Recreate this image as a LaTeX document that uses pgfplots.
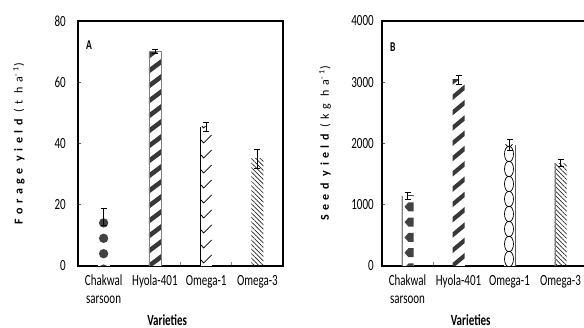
\documentclass[border=0pt]{standalone}
\usepackage{fontspec}
\setmainfont[FakeStretch=0.71]{Carlito}
\newfontfamily\labfont[LetterSpace=37]{Carlito}
\usepackage{pgfplots}
\pgfplotsset{compat=1.18}
\usetikzlibrary{patterns.meta}
\definecolor{blob}{HTML}{424242}
\definecolor{stripe}{HTML}{383838}
\tikzset{np/.style={path picture={}, pattern=none}}
\pgfplotsset{
  common/.style={
    scale only axis, width=205pt, height=245pt,
    anchor=south west,
    xmin=-0.5, xmax=3.5, ymin=0,
    axis line style={line width=1.6pt, black},
    xtick={0,1,2,3},
    xticklabels={{\strut Chakwal\\sarsoon},{\strut Hyola-401},{\strut Omega-1},{\strut Omega-3}},
    xticklabel style={align=center, font=\fontsize{15.5}{18}\selectfont, yshift=-3.2pt},
    yticklabel style={font=\fontsize{15.5}{18}\selectfont},
    /pgf/number format/assume math mode=true,
    /pgf/number format/1000 sep={},
    major x tick style={draw=none},
    minor x tick style={gray, line width=0.6pt},
    xtick pos=bottom, ytick pos=left,
    tick align=inside,
    major tick length=3pt, minor tick length=4pt,
    y tick style={gray!70!black, line width=0.6pt},
    xlabel={\fontsize{15.5}{18}\selectfont\bfseries Varieties},
    xlabel style={at={(axis description cs:0.435,0)}, anchor=north, inner sep=0pt, yshift=-48pt},
    clip=true,
  },
  bar/.style={ybar, bar width=12pt, bar shift=0pt, forget plot},
  err/.style={forget plot, draw=none, mark=none,
    error bars/.cd, y dir=both, y explicit,
    error bar style={draw=black, line width=0.7pt},
    error mark options={rotate=90, mark size=3pt, line width=0.7pt, draw=black}},
}
\begin{document}
\begin{tikzpicture}
% ---------------- Panel A ----------------
\begin{axis}[common, at={(78pt,62pt)}, width=205pt,
  ymax=80, ytick={0,20,40,60,80},
  yticklabel style={xshift=-8.8pt},
  minor xtick={1.5,2.5},
  ylabel={\labfont\fontsize{12}{14}\selectfont\bfseries Forage yield \mdseries (t ha\textsuperscript{-1})},
  ylabel style={at={(axis description cs:-0.288,0.5)}, anchor=center, inner sep=0pt},
]
% Chakwal sarsoon
\addplot[bar, draw=none, fill=white, path picture={
  \foreach \k [evaluate=\k as \y using \k*15.4-3.1] in {0,...,4}{
    \fill[np, draw=none, fill=blob] ([xshift=6pt,yshift=\y pt]path picture bounding box.south west) circle (4.7pt);
  }}] coordinates {(0,16)};
% Hyola-401
\addplot[bar, draw=gray, line width=0.7pt, fill=white, path picture={
  \foreach \k [evaluate=\k as \y using \k*15-2.25] in {-1,...,16}{
    \draw[np, fill=none, draw=stripe, line width=4.5pt] ([xshift=-3pt,yshift=\y pt]path picture bounding box.south west) -- ++(18pt,13.5pt);
  }}] coordinates {(1,70)};
% Omega-1
\addplot[bar, draw=none, fill=white, path picture={
  \draw[np, fill=none, draw=black, line width=1.6pt] (path picture bounding box.south west) -- (path picture bounding box.north west);
  \foreach \k [evaluate=\k as \y using \k*15+6] in {0,...,10}{
    \draw[np, fill=none, draw=black, line width=0.8pt] ([xshift=1pt,yshift=\y pt]path picture bounding box.south west) -- ++(2.5pt,-3pt) -- ++(8pt,8pt);
  }}] coordinates {(2,45.5)};
% Omega-3
\addplot[bar, draw=none, pattern={Lines[angle=135, distance=3.2pt, line width=0.7pt]}, pattern color=black!85] coordinates {(3,35)};
% error bars
\addplot[err] coordinates {(0,16) +- (0,2.8) (1,70) +- (0,0.6) (2,45.5) +- (0,1.5) (3,35) +- (0,3.2)};
\node[anchor=north west, inner sep=0pt, font=\fontsize{13.5}{15}\selectfont\bfseries] at (rel axis cs:0.039,0.922) {A};
\end{axis}
% ---------------- Panel B ----------------
\begin{axis}[common, at={(382pt,62pt)}, width=204pt,
  ymax=4000, ytick={0,1000,2000,3000,4000},
  yticklabel style={xshift=-4.8pt},
  minor xtick={0.5},
  ylabel={\labfont\fontsize{12}{14}\selectfont\bfseries Seed yield \mdseries (kg ha\textsuperscript{-1})},
  ylabel style={at={(axis description cs:-0.279,0.5)}, anchor=center, inner sep=0pt},
]
% Chakwal sarsoon
\addplot[bar, draw=none, fill=white, path picture={
  \draw[np, fill=none, draw=gray, line width=2.4pt] (path picture bounding box.south west) -- (path picture bounding box.north west);
  \foreach \k [evaluate=\k as \y using \k*15.3-2] in {0,...,5}{
    \fill[np, draw=none, fill=blob] ([xshift=3pt,yshift=\y pt]path picture bounding box.south west) -- ++(4pt,4.5pt) -- ++(5pt,0pt) -- ++(0pt,-9pt) -- ++(-5pt,0pt) -- cycle;
  }}] coordinates {(0,1150)};
% Hyola-401
\addplot[bar, draw=none, fill=white, path picture={
  \foreach \k [evaluate=\k as \y using \k*15.3-2.25] in {-1,...,14}{
    \draw[np, fill=none, draw=stripe, line width=4.2pt] ([xshift=-3pt,yshift=\y pt]path picture bounding box.south west) -- ++(18pt,15pt);
  }}] coordinates {(1,3040)};
% Omega-1
\addplot[bar, draw=none, fill=white, path picture={
  \draw[np, fill=none, draw=black, line width=1.6pt] (path picture bounding box.south east) -- (path picture bounding box.north east);
  \foreach \k [evaluate=\k as \y using \k*15+7] in {0,...,9}{
    \draw[np, fill=none, draw=black, line width=0.7pt] ([xshift=5.5pt,yshift=\y pt]path picture bounding box.south west) ellipse (4.5pt and 7.8pt);
  }}] coordinates {(2,1980)};
% Omega-3
\addplot[bar, draw=none, pattern={Lines[angle=135, distance=3.2pt, line width=0.7pt]}, pattern color=black!85, path picture={
  \draw[np, fill=none, draw=gray, line width=2pt] (path picture bounding box.south west) -- (path picture bounding box.north west);}] coordinates {(3,1680)};
% error bars
\addplot[err] coordinates {(0,1150) +- (0,55) (1,3040) +- (0,80) (2,1980) +- (0,90) (3,1680) +- (0,60)};
\node[anchor=north west, inner sep=0pt, font=\fontsize{13.5}{15}\selectfont\bfseries] at (rel axis cs:0.039,0.914) {B};
\end{axis}
\pgfresetboundingbox
\path[use as bounding box] (0,0) rectangle (584pt,328pt);
\end{tikzpicture}
\end{document}
